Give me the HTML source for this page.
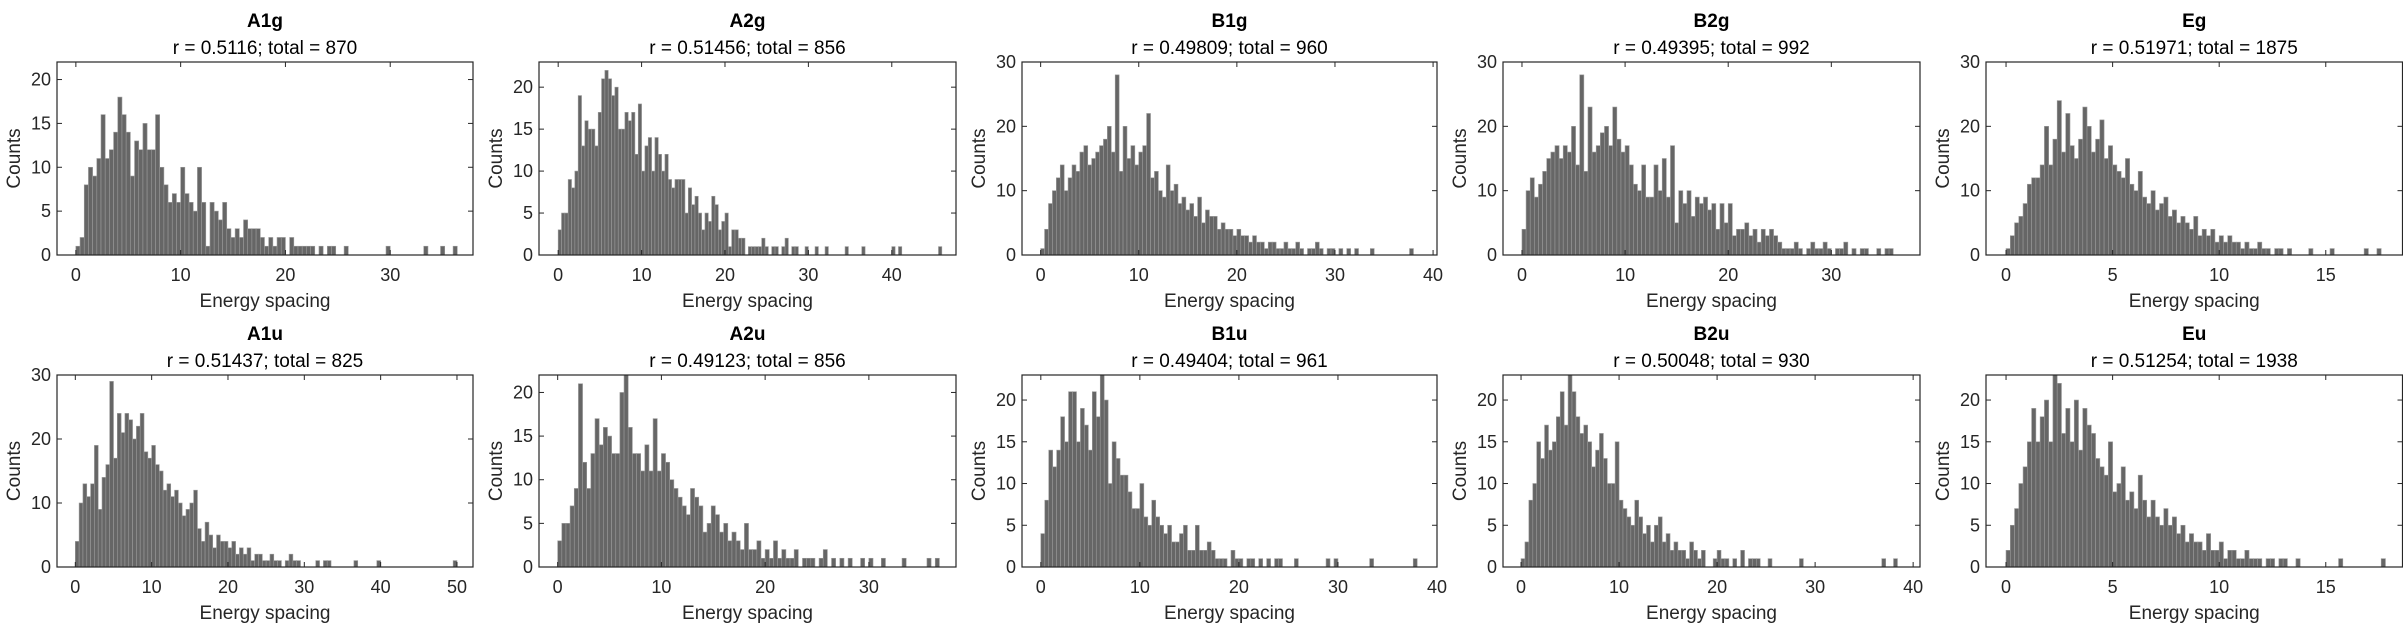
<!DOCTYPE html>
<html><head><meta charset="utf-8"><style>
html,body{margin:0;padding:0;background:#fff;}
svg{display:block;font-family:"Liberation Sans",Arial,sans-serif;}
</style></head><body>
<svg id="fig" width="2403" height="625" viewBox="0 0 2403 625" xmlns="http://www.w3.org/2000/svg"></svg>
<script>
const titles = ["A1g","A2g","B1g","B2g","Eg","A1u","A2u","B1u","B2u","Eu"];
const subtitles = ["r = 0.5116; total = 870","r = 0.51456; total = 856","r = 0.49809; total = 960","r = 0.49395; total = 992","r = 0.51971; total = 1875","r = 0.51437; total = 825","r = 0.49123; total = 856","r = 0.49404; total = 961","r = 0.50048; total = 930","r = 0.51254; total = 1938"];
const binWidths = [0.4,0.4,0.4,0.4,0.2,0.5,0.4,0.4,0.4,0.2];
const cA1g = [1,2,8,10,9,11,16,11,12,14,18,16,14,9,13,12,15,12,12,16,10,8,6,7,6,10,7,6,5,10,6,1,6,5,4,6,3,2,3,2,4,3,3,3,2,1,2,1,2,2,0,2,1,1,1,1,1,0,1,0,1,1,0,0,1,0,0,0,0,0,0,0,0,0,1,0,0,0,0,0,0,0,0,1,0,0,0,1,0,0,1];
const cA2g = [3,5,5,9,8,10,19,13,16,15,15,13,17,21,22,21,19,20,15,15,17,16,17,12,18,10,13,14,10,14,12,10,12,9,8,9,9,9,5,8,6,7,5,3,5,4,7,6,3,4,5,1,3,3,2,2,0,1,1,1,1,2,1,0,1,1,0,1,2,0,1,1,0,0,1,0,0,1,0,0,1,0,0,0,0,0,1,0,0,0,0,1,0,0,0,0,0,0,0,0,1,0,1,0,0,0,0,0,0,0,0,0,0,0,1];
const cB1g = [1,4,8,10,12,14,10,12,14,13,16,17,14,15,16,17,18,20,16,28,13,20,15,17,14,16,17,22,12,13,10,9,14,10,11,8,9,7,8,6,9,5,7,6,6,4,5,4,4,3,4,3,3,2,3,2,2,1,2,2,1,1,2,1,1,2,1,0,1,1,2,1,0,1,1,0,1,0,1,0,1,0,0,0,1,0,0,0,0,0,0,0,0,0,1];
const cB2g = [4,10,12,9,11,13,15,16,17,15,17,16,20,14,28,13,23,16,17,19,20,17,23,18,16,17,14,11,10,14,9,9,14,10,15,9,17,5,10,8,10,6,9,8,9,7,8,4,8,5,8,3,4,4,5,3,4,2,4,3,4,3,2,1,1,1,2,1,0,1,2,1,1,2,1,0,1,1,2,0,1,0,1,1,0,0,1,0,1,1,0,0,0,0,0,0,0,0,0,0,0,1,1];
const cEg = [1,3,5,6,8,11,12,12,14,20,14,18,24,16,22,17,15,18,23,20,16,18,21,15,17,14,13,12,15,11,10,13,9,8,10,7,8,9,6,7,5,6,5,4,6,3,4,3,4,2,3,2,3,2,2,1,2,1,1,2,1,1,0,1,1,0,1,0,0,0,0,1,0,0,0,0,1,0,0,0,0,0,0,0,1,0,0,1];
const cA1u = [4,10,13,11,13,19,9,14,16,29,17,24,21,24,23,20,22,24,18,17,19,16,15,12,13,11,12,10,8,9,10,12,6,4,7,5,3,5,4,4,3,4,2,3,2,3,1,2,2,1,1,2,1,1,0,1,2,1,1,0,0,0,0,1,0,1,1,0,0,0,0,0,0,1,0,0,0,0,0,1,0,0,0,0,0,0,0,0,0,0,0,0,0,0,0,0,0,0,0,1];
const cA2u = [3,5,5,7,9,21,12,9,13,17,14,16,15,13,13,20,22,16,13,13,11,14,11,17,11,13,12,10,9,8,7,6,9,8,7,4,5,7,6,4,5,3,4,3,2,5,2,2,3,1,2,1,3,1,2,1,1,2,0,1,1,1,0,1,2,0,1,0,1,0,1,0,0,1,0,1,0,0,1,0,0,0,0,1,0,0,0,0,0,1,0,1];
const cB1u = [4,8,14,12,14,18,15,21,21,15,19,17,14,21,18,23,20,10,15,13,11,11,9,7,7,10,6,5,8,6,5,4,5,3,3,4,5,2,2,5,2,2,3,2,1,1,1,0,2,1,1,0,1,1,0,1,0,1,0,1,1,0,0,0,1,0,0,0,0,0,0,0,1,0,1,0,0,0,0,0,0,0,0,1,0,0,0,0,0,0,0,0,0,0,1];
const cB2u = [1,3,8,10,15,13,17,14,15,18,21,17,23,21,18,16,17,15,12,14,16,13,10,10,15,8,7,6,5,8,6,4,5,3,5,6,3,4,2,3,2,2,1,3,2,1,2,0,0,1,2,1,1,0,1,0,2,0,1,1,1,0,0,1,0,0,0,0,0,0,0,1,0,0,0,0,0,0,0,0,0,0,0,0,0,0,0,0,0,0,0,0,1,0,0,1];
const cEu = [2,5,7,10,12,15,19,15,18,20,15,23,22,16,19,15,20,14,19,17,16,13,12,11,15,9,10,12,8,9,7,11,8,6,8,6,5,7,5,6,4,5,3,4,3,3,2,4,2,2,3,1,2,2,1,1,2,1,1,1,0,1,1,0,1,1,0,0,1,0,0,0,0,0,0,0,0,0,1,0,0,0,0,0,0,0,0,0,1];
const counts = [cA1g,cA2g,cB1g,cB2g,cEg,cA1u,cA2u,cB1u,cB2u,cEu];
const xLims = [[-1.8,37.9],[-2.3,47.7],[-1.9,40.4],[-1.84,38.6],[-0.94,18.6],[-2.4,52.1],[-1.8,38.4],[-1.9,40],[-1.84,40.7],[-0.94,18.6]];
const yMaxes = [22,23,30,30,30,30,22,23,23,23];
const xTicks = [[0,10,20,30],[0,10,20,30,40],[0,10,20,30,40],[0,10,20,30],[0,5,10,15],[0,10,20,30,40,50],[0,10,20,30],[0,10,20,30,40],[0,10,20,30,40],[0,5,10,15]];
const yTicks = [[0,5,10,15,20],[0,5,10,15,20],[0,10,20,30],[0,10,20,30],[0,10,20,30],[0,10,20,30],[0,5,10,15,20],[0,5,10,15,20],[0,5,10,15,20],[0,5,10,15,20]];

const NS="http://www.w3.org/2000/svg";
const svg=document.getElementById('fig');
const lefts=[57,539,1022,1503,1986];
const rights=[473,956,1437,1920,2402.5];
const tops=[62,375], bottoms=[255,567];
function mk(tag,attrs,parent){const e=document.createElementNS(NS,tag);for(const k in attrs)e.setAttribute(k,attrs[k]);parent.appendChild(e);return e;}
for(let p=0;p<10;p++){
  const row=Math.floor(p/5), col=p%5;
  const L=lefts[col], R=rights[col], T=tops[row], B=bottoms[row];
  const [x0,x1]=xLims[p], ym=yMaxes[p];
  const sx=v=>L+(v-x0)/(x1-x0)*(R-L);
  const sy=v=>B-v/ym*(B-T);
  const g=mk('g',{},svg);
  
  
  const cp=mk('clipPath',{id:'cp'+p},g);
  mk('rect',{x:L,y:T,width:R-L,height:B-T},cp);
  const bars=mk('g',{'clip-path':'url(#cp'+p+')'},g);
  
  
  const w=binWidths[p];
  counts[p].forEach((c,i)=>{
    if(c<=0)return;
    const xa=sx(i*w), xb=sx((i+1)*w);
    const r=mk('rect',{x:xa,y:sy(c),width:xb-xa,height:sy(0)-sy(c),fill:'#666666',stroke:'#9a9a9a','stroke-width':0.6},bars);
    
    
  });
  const frame=mk('rect',{x:L,y:T,width:R-L,height:B-T,fill:'none',stroke:'#262626','stroke-width':1.2},g);
  
  
  xTicks[p].forEach(t=>{
    const x=sx(t);
    mk('line',{x1:x,y1:B,x2:x,y2:B-5,stroke:'#262626','stroke-width':1},g);
    mk('line',{x1:x,y1:T,x2:x,y2:T+5,stroke:'#262626','stroke-width':1},g);
    const tx=mk('text',{x:x,y:B+26,'text-anchor':'middle','font-size':18,fill:'#262626'},g);
    tx.textContent=t;
    
    
  });
  yTicks[p].forEach(t=>{
    const y=sy(t);
    mk('line',{x1:L,y1:y,x2:L+5,y2:y,stroke:'#262626','stroke-width':1},g);
    mk('line',{x1:R,y1:y,x2:R-5,y2:y,stroke:'#262626','stroke-width':1},g);
    const ty=mk('text',{x:L-6,y:y+6,'text-anchor':'end','font-size':18,fill:'#262626'},g);
    ty.textContent=t;
    
    
  });
  const cx=(L+Math.min(R,2403))/2;
  const ti=mk('text',{x:cx,y:T-35,'text-anchor':'middle','font-size':19,'font-weight':'bold',fill:'#000'},g);
  ti.textContent=titles[p];
  
  
  const st=mk('text',{x:cx,y:T-8,'text-anchor':'middle','font-size':19,fill:'#000'},g);
  st.textContent=subtitles[p];
  
  
  const xl=mk('text',{x:cx,y:B+52,'text-anchor':'middle','font-size':19,fill:'#262626'},g);
  xl.textContent='Energy spacing';
  
  
  const yc=(T+B)/2;
  const yl=mk('text',{x:L-37,y:yc,'text-anchor':'middle','font-size':19,fill:'#262626',transform:'rotate(-90 '+(L-37)+' '+yc+')'},g);
  yl.textContent='Counts';
  
  
}
</script>
</body></html>
